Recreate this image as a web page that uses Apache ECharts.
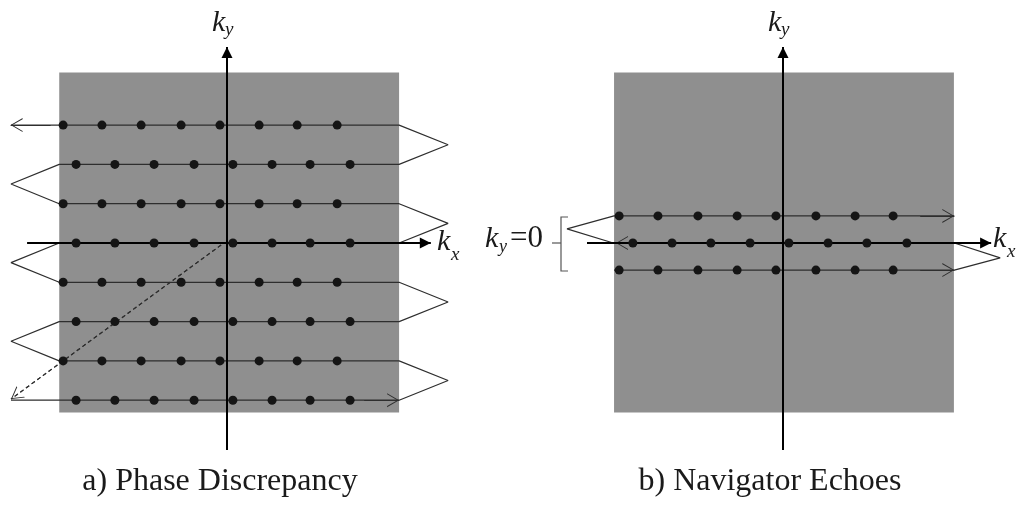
<!DOCTYPE html>
<html><head><meta charset="utf-8">
<script src="https://cdn.jsdelivr.net/npm/echarts@6/dist/echarts.min.js"></script>
<style>html,body{margin:0;padding:0;background:#fff}#c{width:1021px;height:508px}</style>
</head><body><div id="c"></div>
<script>
// ---- data (k-space units) ----
// Panel a: phase-encode rows and sample positions
const rowsA = [3, 2, 1, 0, -1, -2, -3, -4];
const kxOddA = [-4.18, -3.19, -2.19, -1.17, -0.18, 0.82, 1.79, 2.81];
const kxEvenA = [-3.85, -2.86, -1.86, -0.84, 0.15, 1.15, 2.12, 3.14];
const trajA = [[-5.51,-4],[4.39,-4],[5.64,-3.5],[4.39,-3],[-4.28,-3],[-5.51,-2.5],[-4.28,-2],[4.39,-2],[5.64,-1.5],[4.39,-1],[-4.28,-1],[-5.51,-0.5],[-4.28,0],[4.39,0],[5.64,0.5],[4.39,1],[-4.28,1],[-5.51,1.5],[-4.28,2],[4.39,2],[5.64,2.5],[4.39,3],[-5.51,3]];
const arrowsA = [[[-4.5,3],[-5.52,3]], [[3.5,-4],[4.39,-4]]];
const dashA = [[-0.15,-0.05],[-5.51,-3.97]];
const squareA = [[-4.28, 4.34],[4.39,-4.31]];
const axesA = [[[-5.1,0],[5.2,0]], [[0,-5.27],[0,4.99]]];
// Panel b: navigator echo rows
const rowsB = [0.69, 0, -0.69];
const kxOuterB = [-4.18, -3.19, -2.17, -1.17, -0.18, 0.84, 1.84, 2.81];
const kxCenterB = [-3.83, -2.83, -1.84, -0.84, 0.15, 1.15, 2.14, 3.16];
const trajB = [[4.37,0.69],[-4.31,0.69],[-5.51,0.36],[-4.33,0],[4.37,0],[5.54,-0.38],[4.37,-0.69],[-4.31,-0.69]];
const arrowsB = [[[3.5,0.69],[4.37,0.69]], [[-3,0],[-4.26,0]], [[3.5,-0.69],[4.37,-0.69]]];
const squareB = [[-4.31, 4.34],[4.36,-4.31]];
const axesB = [[[-5.0,0],[5.31,0]], [[0,-5.27],[0,4.99]]];
// texts
const titles = ['a) Phase Discrepancy', 'b) Navigator Echoes'];

// ---- build ----
const dotsA = [];
rowsA.forEach((ky, i) => (i % 2 === 0 ? kxOddA : kxEvenA).forEach(kx => dotsA.push([kx, ky])));
const dotsB = [];
rowsB.forEach((ky, i) => (i === 1 ? kxCenterB : kxOuterB).forEach(kx => dotsB.push([kx, ky])));

const SX = 39.2, SY = 39.3;
const chevron = 'path://M0,0 L7,12 L5.9,12 L0,1.8 L-5.9,12 L-7,12 Z';
const tri = 'path://M0,0 L5.5,11 L-5.5,11 Z';
const serif = '"Liberation Serif","DejaVu Serif",serif';
const XR = [-5.8, 6.0], YR = [-5.6, 5.9];

function grid(cx, cy) {
  return { left: cx + XR[0] * SX, width: (XR[1] - XR[0]) * SX, top: cy - YR[1] * SY, height: (YR[1] - YR[0]) * SY,
           containLabel: false, outerBoundsMode: 'none', show: false };
}
function axis(gi, r) {
  return { type: 'value', gridIndex: gi, min: r[0], max: r[1],
    axisLine: { show: false }, axisTick: { show: false }, axisLabel: { show: false }, splitLine: { show: false } };
}
const lineColor = '#2e2e2e';
function marks(segs, sym, size, color, width, type) {
  return { silent: true, symbol: ['none', sym], symbolSize: size, symbolOffset: [0, [0, size[1] / 2]],
    lineStyle: { color, width, type: type || 'solid' }, itemStyle: { color },
    label: { show: false }, emphasis: { disabled: true }, animation: false,
    data: segs.map(s => [{ coord: s[0] }, { coord: s[1] }]) };
}
function panelSeries(gi, square, traj, dots, arrows, axes) {
  return [
    { type: 'scatter', xAxisIndex: gi, yAxisIndex: gi, data: [], z: 1, silent: true,
      markArea: { silent: true, itemStyle: { color: '#8f8f8f', opacity: 1 }, label: { show: false },
        data: [[{ coord: square[0] }, { coord: square[1] }]] } },
    { type: 'line', xAxisIndex: gi, yAxisIndex: gi, data: traj, z: 3, clip: false, silent: true,
      symbol: 'none', showSymbol: false, lineStyle: { color: lineColor, width: 1.2 },
      markLine: marks(arrows, chevron, [14, 12], lineColor, 1.2) },
    { type: 'line', xAxisIndex: gi, yAxisIndex: gi, data: [], z: 4, silent: true,
      markLine: marks(axes, tri, [11, 11], '#000', 2) },
    { type: 'scatter', xAxisIndex: gi, yAxisIndex: gi, data: dots, z: 5, clip: false, silent: true,
      symbolSize: 9, itemStyle: { color: '#151515', opacity: 1 } }
  ];
}
function txt(text, x, y, size, italic, align) {
  return { type: 'text', silent: true, z: 10, style: { text, x, y,
    font: (italic ? 'italic ' : '') + size + 'px ' + serif, fill: '#1a1a1a',
    align: align || 'left', textAlign: align || 'left', verticalAlign: 'middle', textVerticalAlign: 'middle' } };
}

const series = [].concat(
  panelSeries(0, squareA, trajA, dotsA, arrowsA, axesA),
  [{ type: 'line', xAxisIndex: 0, yAxisIndex: 0, data: dashA, z: 3, clip: false, silent: true,
     symbol: 'none', lineStyle: { color: lineColor, width: 1.1, type: [4, 3] },
     markLine: marks([dashA], chevron, [14, 12], lineColor, 1.1, [4, 3]) }],
  panelSeries(1, squareB, trajB, dotsB, arrowsB, axesB)
);

const chart = echarts.init(document.getElementById('c'), null, { renderer: 'canvas' });
chart.setOption({
  animation: false,
  backgroundColor: '#fff',
  grid: [grid(227, 243), grid(783, 243)],
  xAxis: [axis(0, XR), axis(1, XR)],
  yAxis: [axis(0, YR), axis(1, YR)],
  series,
  graphic: [
    txt(titles[0], 220, 482, 32, false, 'center'),
    txt(titles[1], 770, 482, 32, false, 'center'),
    txt('k', 212, 23, 30, true), txt('y', 225, 30, 19, true),
    txt('k', 768, 23, 30, true), txt('y', 781, 30, 19, true),
    txt('k', 437, 242, 30, true), txt('x', 451, 255, 19, true),
    txt('k', 993, 239, 30, true), txt('x', 1007, 252, 19, true),
    txt('k', 485, 239, 30, true), txt('y', 499, 247, 18, true), txt('=0', 510, 239, 31, false),
    { type: 'polyline', silent: true, z: 10, shape: { points: [[568,217],[561,217],[561,271],[568,271]] },
      style: { stroke: '#555', lineWidth: 1.2, fill: null } },
    { type: 'line', silent: true, z: 10, shape: { x1: 552, y1: 243, x2: 561, y2: 243 },
      style: { stroke: '#555', lineWidth: 1.2 } }
  ]
});
</script></body></html>
